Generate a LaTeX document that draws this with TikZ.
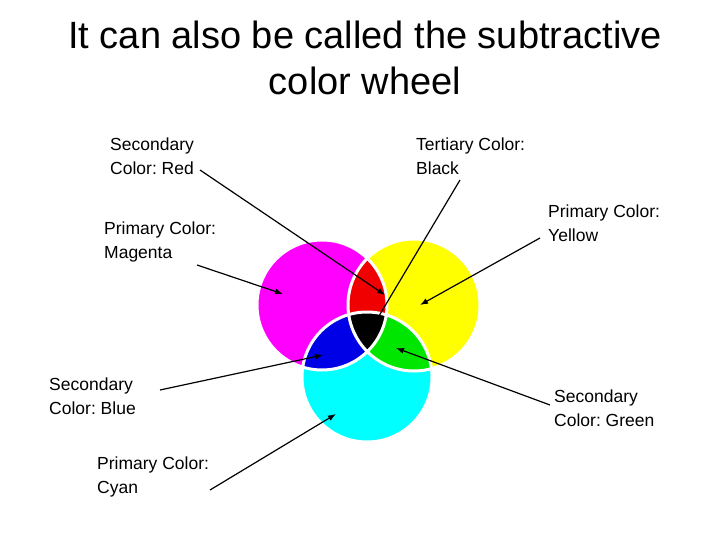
\documentclass[tikz,border=0pt]{standalone}
\usepackage{fontspec}
\setmainfont{Liberation Sans}
\usetikzlibrary{arrows.meta}
\definecolor{cM}{RGB}{255,0,255}
\definecolor{cY}{RGB}{255,255,0}
\definecolor{cC}{RGB}{0,255,255}
\definecolor{cR}{RGB}{240,0,0}
\definecolor{cG}{RGB}{0,230,0}
\definecolor{cB}{RGB}{0,0,230}
\begin{document}
\frenchspacing
\begin{tikzpicture}[x=1pt,y=-1pt,
  lbl/.style={anchor=north west,align=left,font=\fontsize{17.5}{24}\selectfont,inner sep=0pt},
  arr/.style={-{Latex[length=8pt,width=6pt]},line width=1.2pt}]
\useasboundingbox (0,0) rectangle (720,540);
\node[align=center,font=\fontsize{38}{46}\selectfont] (title) at (365,58) {It can also be called the subtractive\\color wheel};
\coordinate (m) at (322,305); \coordinate (y) at (414,305); \coordinate (c) at (367,377);
\fill[cM] (m) circle (65);
\fill[cY] (y) circle (66);
\fill[cC] (c) circle (65);
\begin{scope}\clip (m) circle (65); \fill[cR] (y) circle (66); \end{scope}
\begin{scope}\clip (m) circle (65); \fill[cB] (c) circle (65); \end{scope}
\begin{scope}\clip (y) circle (66); \fill[cG] (c) circle (65); \end{scope}
\begin{scope}\clip (m) circle (65); \clip (y) circle (66); \fill[black] (c) circle (65); \end{scope}
\draw[white,line width=3pt] (m) circle (65) (y) circle (66) (c) circle (65);
\node[lbl] (lred) at (110,138) {Secondary\\Color: Red};
\node[lbl] (lblack) at (416,138) {Tertiary Color:\\Black};
\node[lbl] (lmag) at (104,222) {Primary Color:\\Magenta};
\node[lbl] (lyel) at (548,205) {Primary Color:\\Yellow};
\node[lbl] (lblue) at (49,378) {Secondary\\Color: Blue};
\node[lbl] (lgreen) at (554,390) {Secondary\\Color: Green};
\node[lbl] (lcyan) at (97,457) {Primary Color:\\Cyan};
\coordinate (tred) at (200,170); \coordinate (hred) at (385,295);
\coordinate (tblack) at (460,180); \coordinate (hblack) at (373,326);
\coordinate (tmag) at (197,265); \coordinate (hmag) at (283,294);
\coordinate (tyel) at (540,238); \coordinate (hyel) at (420,305);
\coordinate (tblue) at (160,390); \coordinate (hblue) at (323,355);
\coordinate (tgreen) at (550,405); \coordinate (hgreen) at (396,348);
\coordinate (tcyan) at (210,490); \coordinate (hcyan) at (336,414);
\foreach \a in {red,black,mag,yel,blue,green,cyan} \draw[arr] (t\a) -- (h\a);
\end{tikzpicture}
\end{document}
